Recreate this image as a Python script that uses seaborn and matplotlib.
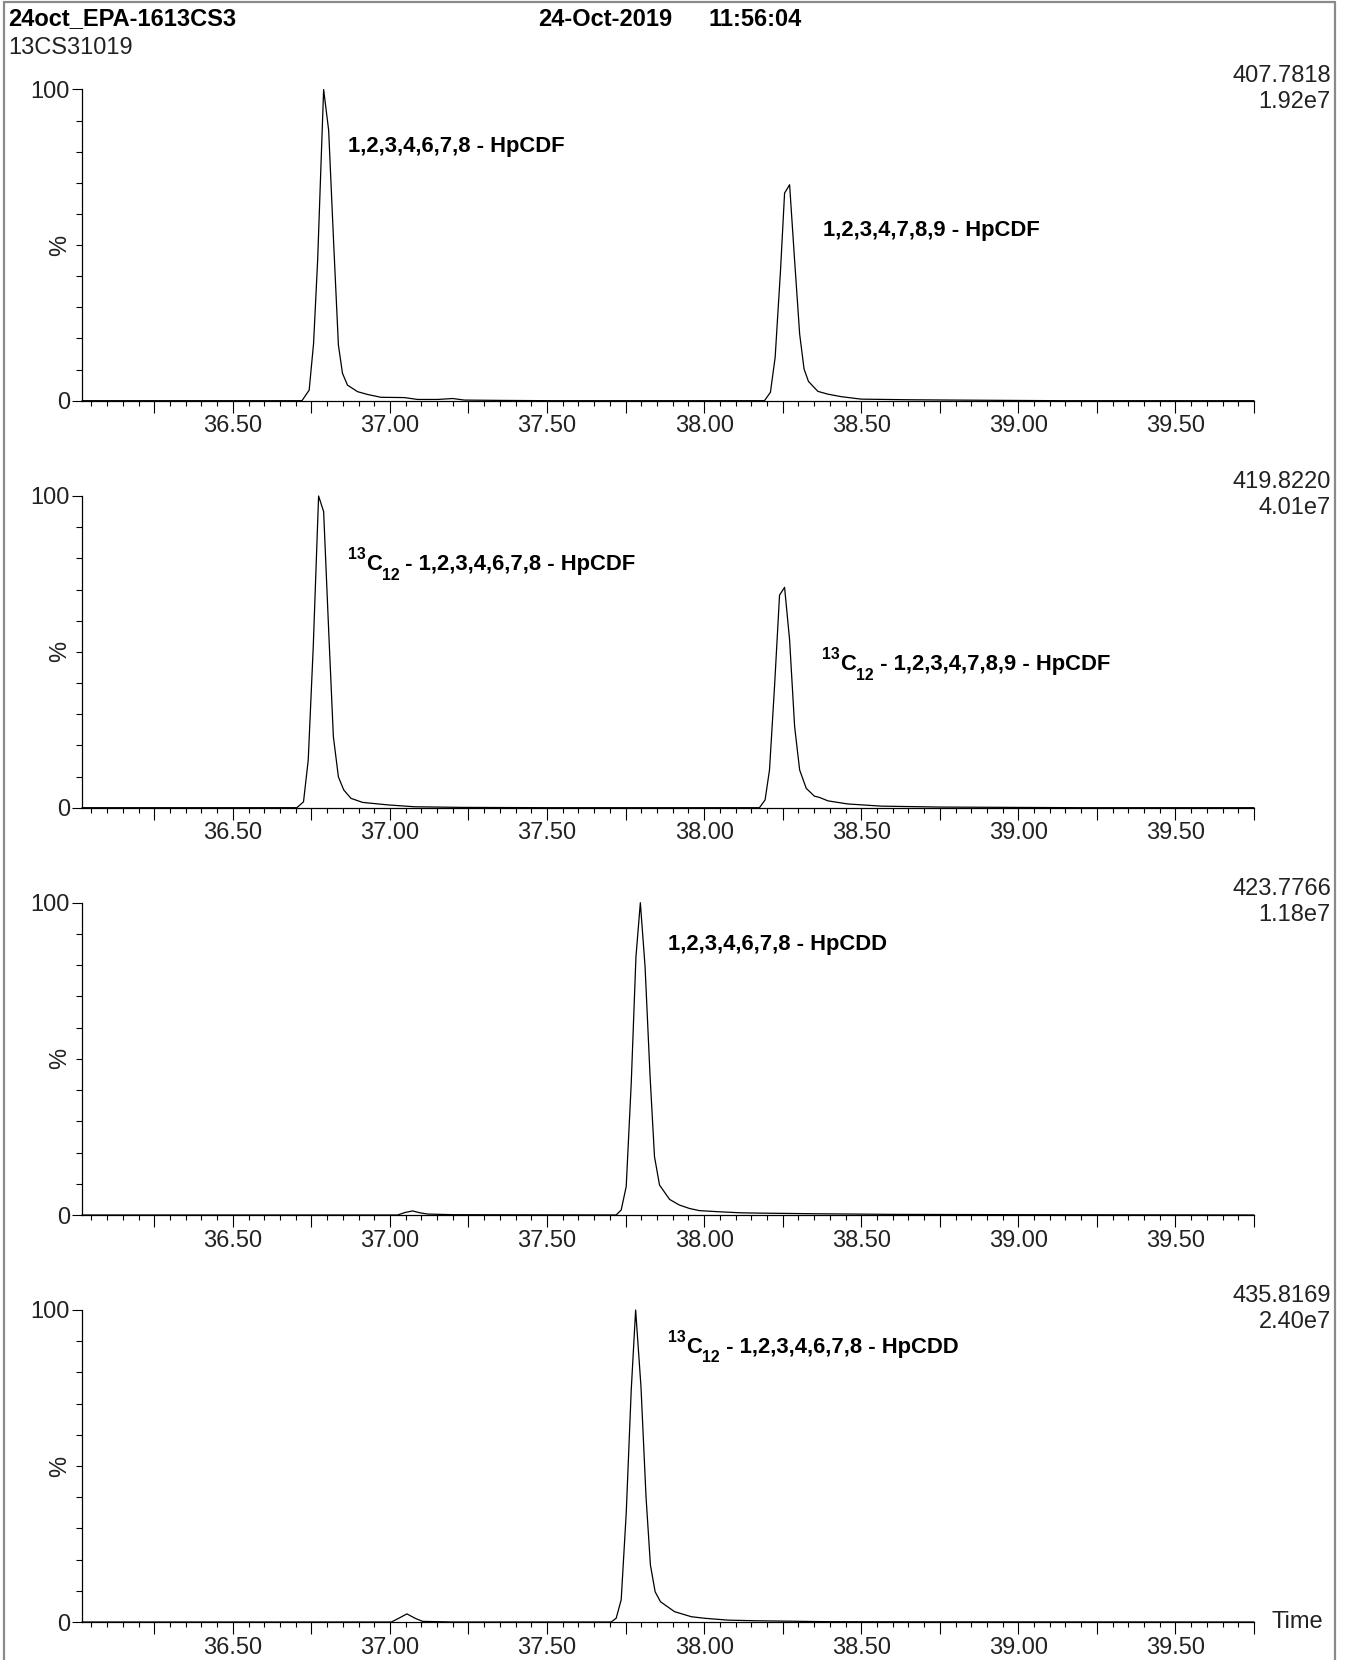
import numpy as np
import pandas as pd
import matplotlib
matplotlib.use("Agg")
import matplotlib.pyplot as plt
import matplotlib.ticker as mticker
import matplotlib.transforms as mtrans
import seaborn as sns

# ---------------- data ----------------
mass_labels = ["407.7818", "419.8220", "423.7766", "435.8169"]
intensity_labels = ["1.92e7", "4.01e7", "1.18e7", "2.40e7"]

t1 = [36.02, 36.72, 36.743, 36.757, 36.770, 36.780, 36.789, 36.805, 36.821, 36.836, 36.849,
      36.865, 36.897, 36.929, 36.971, 37.046, 37.088, 37.152, 37.200, 37.237, 37.35, 37.51,
      38.0, 38.192, 38.211, 38.226, 38.243, 38.256, 38.272, 38.288, 38.304, 38.318, 38.332,
      38.362, 38.394, 38.436, 38.50, 38.65, 38.797, 39.137, 39.75]
i1 = [0, 0, 3.4, 18.4, 45.2, 74.1, 100, 86.9, 50.5, 17.9, 8.8,
      5.0, 2.9, 2.0, 1.1, 1.0, 0.4, 0.4, 0.7, 0.2, 0.1, 0,
      0, 0, 2.7, 13.9, 41.7, 66.7, 69.4, 45.0, 21.4, 10.2, 6.2,
      3.0, 2.1, 1.3, 0.5, 0.3, 0.2, 0, 0]

t2 = [36.02, 36.704, 36.725, 36.740, 36.756, 36.773, 36.789, 36.805, 36.820, 36.836, 36.853,
      36.876, 36.913, 36.993, 37.078, 37.226, 37.5, 38.176, 38.194, 38.208, 38.224, 38.240,
      38.256, 38.272, 38.288, 38.304, 38.325, 38.351, 38.367, 38.394, 38.457, 38.564, 38.755,
      39.20, 39.75]
i2 = [0, 0, 1.9, 15.3, 51.7, 100, 95.0, 57.0, 22.8, 9.9, 5.7,
      3.0, 1.7, 0.9, 0.3, 0.1, 0, 0, 2.5, 12.1, 38.8, 68.2,
      70.7, 53.8, 26.0, 12.1, 6.2, 3.7, 3.3, 2.2, 1.2, 0.5, 0.2,
      0, 0]

t3 = [36.02, 37.024, 37.048, 37.072, 37.096, 37.120, 37.2, 37.720, 37.736, 37.752, 37.768,
      37.783, 37.797, 37.812, 37.828, 37.842, 37.858, 37.890, 37.921, 37.953, 37.985, 38.054,
      38.118, 38.18, 38.35, 38.6, 39.0, 39.75]
i3 = [0, 0, 0.8, 1.3, 0.7, 0.3, 0.1, 0, 1.6, 9.1, 42.2,
      82.7, 100, 79.5, 44.3, 18.7, 9.6, 5.0, 3.2, 2.1, 1.4, 1.0,
      0.7, 0.6, 0.4, 0.2, 0.1, 0]

t4 = [36.02, 37.005, 37.030, 37.054, 37.080, 37.104, 37.2, 37.704, 37.720, 37.736, 37.752,
      37.768, 37.782, 37.799, 37.815, 37.829, 37.844, 37.861, 37.906, 37.959, 38.001, 38.076,
      38.160, 38.394, 38.7, 39.75]
i4 = [0, 0, 1.3, 2.6, 1.2, 0.2, 0, 0, 1.2, 7.1, 34.8,
      74.4, 100, 75.4, 40.2, 18.3, 9.7, 6.5, 3.3, 1.7, 1.2, 0.6,
      0.4, 0.1, 0.05, 0]

peak_prefix = [[False, False], [True, True], [False], [True]]
peak_names = [
    ["1,2,3,4,6,7,8 - HpCDF", "1,2,3,4,7,8,9 - HpCDF"],
    ["1,2,3,4,6,7,8 - HpCDF", "1,2,3,4,7,8,9 - HpCDF"],
    ["1,2,3,4,6,7,8 - HpCDD"],
    ["1,2,3,4,6,7,8 - HpCDD"],
]
peak_label_x = [[36.867, 38.378], [36.867, 38.376], [37.884], [37.886]]
peak_label_y = [[81.8, 54.8], [77.9, 45.8], [86.5], [88.0]]

# ---------------- style ----------------
sns.set_theme(style="white")
plt.rcParams["font.family"] = ["Liberation Sans", "DejaVu Sans"]
fs, fs_title, fs_ann = 17.0, 17.0, 15.8

W, H = 1346, 1660
fig = plt.figure(figsize=(W / 100, H / 100), dpi=100)
fig.patch.set_facecolor("white")

XMIN, XMAX = 36.02, 39.75
panel_px = [(89.5, 400.7), (496.0, 807.7), (902.7, 1215.0), (1310.0, 1622.0)]
left_px, right_px = 82.0, 1254.0
txt_col = "#222222"

traces = [(t1, i1), (t2, i2), (t3, i3), (t4, i4)]
frames = []
for k, (tt, ii) in enumerate(traces):
    frames.append(pd.DataFrame({"time": tt, "pct": ii, "panel": k}))
df = pd.concat(frames, ignore_index=True)


def fmt(v, pos):
    r = round(v * 2) / 2
    if abs(v - r) < 1e-6:
        return f"{v:.2f}"
    return ""


def iso_label(ax, x, y, text, prefix):
    if not prefix:
        ax.text(x, y, text, ha="left", va="center", fontsize=fs_ann,
                fontweight="bold", color="black")
        return
    r = fig.canvas.get_renderer()
    t_sup = ax.text(x, y, "13", ha="left", va="bottom", fontsize=fs_ann * 0.72,
                    fontweight="bold", color="black",
                    transform=ax.transData + mtrans.ScaledTranslation(0, 2 / 72, fig.dpi_scale_trans))
    w1 = t_sup.get_window_extent(renderer=r).width
    t_c = ax.text(x, y, "C", ha="left", va="center", fontsize=fs_ann, fontweight="bold",
                  color="black",
                  transform=ax.transData + mtrans.ScaledTranslation(w1 / fig.dpi, 0, fig.dpi_scale_trans))
    wc = t_c.get_window_extent(renderer=r).width
    t_sub = ax.text(x, y, "12", ha="left", va="top", fontsize=fs_ann * 0.72, fontweight="bold",
                    color="black",
                    transform=ax.transData + mtrans.ScaledTranslation((w1 + wc) / fig.dpi, -2 / 72,
                                                                      fig.dpi_scale_trans))
    ws = t_sub.get_window_extent(renderer=r).width
    ax.text(x, y, " - " + text, ha="left", va="center", fontsize=fs_ann, fontweight="bold",
            color="black",
            transform=ax.transData + mtrans.ScaledTranslation((w1 + wc + ws) / fig.dpi, 0,
                                                              fig.dpi_scale_trans))


axes = []
for k, (ytop, ybot) in enumerate(panel_px):
    ax = fig.add_axes([left_px / W, 1 - ybot / H, (right_px - left_px) / W, (ybot - ytop) / H])
    axes.append(ax)
    sub = df[df["panel"] == k]
    sns.lineplot(data=sub, x="time", y="pct", ax=ax, color="black", linewidth=0.9,
                 sort=False, estimator=None, legend=False)
    for ln in ax.lines:
        ln.set_clip_on(False)
    ax.set_xlim(XMIN, XMAX)
    ax.set_ylim(0, 100)
    ax.set_xlabel("")
    ax.set_ylabel("")
    for s in ["top", "right"]:
        ax.spines[s].set_visible(False)
    for s in ["left", "bottom"]:
        ax.spines[s].set_color("black")
        ax.spines[s].set_linewidth(0.9)
    ax.set_facecolor("white")

    ax.xaxis.set_major_locator(mticker.MultipleLocator(0.25))
    ax.xaxis.set_minor_locator(mticker.MultipleLocator(0.05))
    ax.xaxis.set_major_formatter(mticker.FuncFormatter(fmt))
    ax.yaxis.set_major_locator(mticker.FixedLocator([0, 100]))
    ax.yaxis.set_minor_locator(mticker.MultipleLocator(10))
    ax.tick_params(axis="x", which="major", direction="out", length=8.6, width=0.8,
                   color="black", labelsize=fs, pad=2, bottom=True)
    ax.tick_params(axis="x", which="minor", direction="out", length=3.6, width=0.8,
                   color="black", bottom=True)
    ax.tick_params(axis="y", which="major", direction="out", length=7.2, width=0.8,
                   color="black", labelsize=fs, pad=1.5, left=True)
    ax.tick_params(axis="y", which="minor", direction="out", length=4.3, width=0.8,
                   color="black", left=True)
    for lab in ax.get_xticklabels() + ax.get_yticklabels():
        lab.set_color(txt_col)

    tr = mtrans.blended_transform_factory(fig.transFigure, ax.transAxes)
    ax.text(60 / W, 0.5, "%", transform=tr, rotation=90, ha="center", va="center",
            fontsize=fs, color=txt_col)

    fig.text(1331 / W, 1 - (ytop - 14) / H, mass_labels[k], ha="right", va="center",
             fontsize=fs, color=txt_col)
    fig.text(1331 / W, 1 - (ytop + 12) / H, intensity_labels[k], ha="right", va="center",
             fontsize=fs, color=txt_col)

    if k == 3:
        ax.text(1272 / W, 0.0, "Time", transform=tr, ha="left", va="center",
                fontsize=fs, color=txt_col)

for k, ax in enumerate(axes):
    for name, pre, lx, ly in zip(peak_names[k], peak_prefix[k], peak_label_x[k], peak_label_y[k]):
        iso_label(ax, lx, ly, name, pre)

# header
fig.text(8 / W, 1 - 19 / H, "24oct_EPA-1613CS3", ha="left", va="center", fontsize=fs_title,
         fontweight="bold", color="black")
fig.text(538 / W, 1 - 19 / H, "24-Oct-2019", ha="left", va="center", fontsize=fs_title,
         fontweight="bold", color="black")
fig.text(802 / W, 1 - 19 / H, "11:56:04", ha="right", va="center", fontsize=fs_title,
         fontweight="bold", color="black")
fig.text(8 / W, 1 - 48 / H, "13CS31019", ha="left", va="center", fontsize=fs,
         color=txt_col)

border = dict(color="#8a8a8a", linewidth=1.6, transform=fig.transFigure)
fig.add_artist(plt.Line2D([4 / W, 4 / W], [0, 1 - 2 / H], **border))
fig.add_artist(plt.Line2D([4 / W, 1335 / W], [1 - 2 / H, 1 - 2 / H], **border))
fig.add_artist(plt.Line2D([1335 / W, 1335 / W], [0, 1 - 2 / H], **border))

fig.savefig("out.png", dpi=100, facecolor="white")
